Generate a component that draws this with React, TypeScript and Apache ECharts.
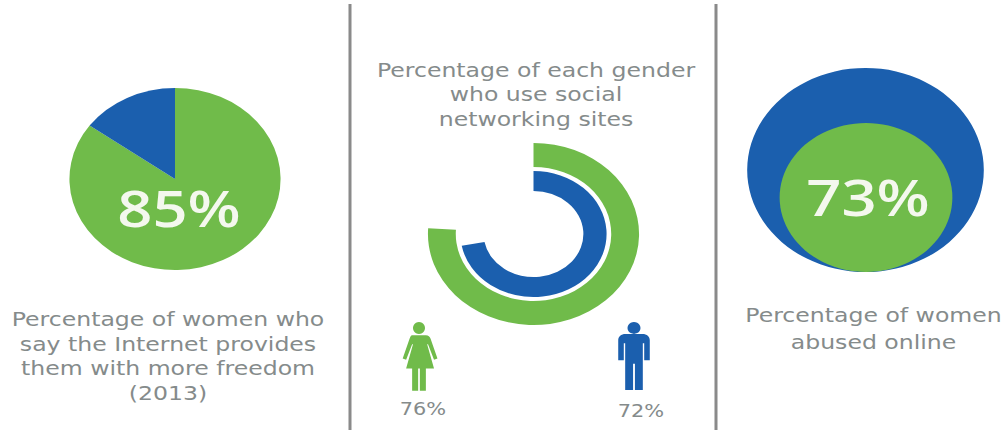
import React, { useEffect, useRef } from "react";
import * as echarts from "echarts";

// Survey figures, in percent
const womenMoreFreedom = 85;
const womenOnSocial = 76;
const menOnSocial = 72;
const womenAbusedOnline = 73;

const freedomCaption = ["Percentage of women who", "say the Internet provides", "them with more freedom", "(2013)"];
const socialCaption = ["Percentage of each gender", "who use social", "networking sites"];
const abuseCaption = ["Percentage of women", "abused online"];

const GREEN = "#70bb4a";
const BLUE = "#1b5fae";
const GREY = "#858b8b";
const RULE = "#8a8a8a";
const FONT = "'Open Sans', sans-serif";
const CAPTION_FONT = "'DejaVu Sans', sans-serif";

// The artwork is laid out on a narrower canvas and widened as a whole.
const WIDEN = 1.16;
const PAGE_W = 1007;
const PAGE_H = 430;
const CANVAS_W = PAGE_W / WIDEN;
const px = (x: number) => x / WIDEN;

const WOMAN =
  "M50 0a14 14 0 1 1-.01 0zM34 31H66c6 0 9 3 11 8l16 46-8 3-14-36-2 0 16 56H66v52H52v-52H48v52H34v-52H20l16-56-2 0-14 36-8-3 16-46c2-5 3-8 6-8z";
const MAN =
  "M50 0a14 14 0 1 1-.01 0zM32 28H68c10 0 16 6 16 15v47H72V50H69V160H52V98H48V160H31V50H28V90H16V43c0-9 6-15 16-15z";
echarts.graphic.registerShape("woman", echarts.graphic.extendPath(WOMAN, {}) as any);
echarts.graphic.registerShape("man", echarts.graphic.extendPath(MAN, {}) as any);

const captionLines = (lines: string[], cx: number, ys: number[]) =>
  lines.map((text, i) => ({
    type: "text",
    z: 10,
    x: px(cx),
    y: ys[i],
    scaleX: 1.07,
    style: { text, fill: GREY, font: `400 19px ${CAPTION_FONT}`, textAlign: "center", textVerticalAlign: "middle" },
  }));

const bigLabel = (value: number, cx: number, cy: number) => ({
  type: "text",
  z: 10,
  x: px(cx),
  y: cy,
  scaleX: 1.06,
  style: { text: `${value}%`, fill: "#f4f8ee", font: `600 50px ${FONT}`, textAlign: "center", textVerticalAlign: "middle" },
});

const smallLabel = (value: number, cx: number, cy: number) => ({
  type: "text",
  z: 10,
  x: px(cx),
  y: cy,
  style: { text: `${value}%`, fill: GREY, font: `400 18px ${CAPTION_FONT}`, textAlign: "center", textVerticalAlign: "middle" },
});

const rule = (x: number, top: number) => ({
  type: "line",
  z: 10,
  shape: { x1: px(x), y1: top, x2: px(x), y2: PAGE_H },
  style: { stroke: RULE, lineWidth: 2.6 },
});

// Share of a full turn as a slice plus an invisible remainder.
const ring = (value: number, color: string, inner: number, outer: number) => ({
  type: "pie",
  center: [px(533.5), 234],
  radius: [inner, outer],
  startAngle: 90,
  silent: true,
  label: { show: false },
  labelLine: { show: false },
  data: [
    { value, itemStyle: { color } },
    { value: 100 - value, itemStyle: { color: "transparent" } },
  ],
});

// A disc whose radius is proportional to the value.
const disc = (value: number, color: string, cx: number, cy: number, fullRadius: number) => ({
  type: "pie",
  center: [px(cx), cy],
  radius: [0, (fullRadius * value) / 100],
  silent: true,
  label: { show: false },
  labelLine: { show: false },
  data: [{ value, itemStyle: { color } }],
});

export default function App() {
  const ref = useRef<HTMLDivElement>(null);

  useEffect(() => {
    const chart = echarts.init(ref.current!, null, { renderer: "svg" });
    chart.setOption({
      animation: false,
      backgroundColor: "#ffffff",
      series: [
        {
          type: "pie",
          center: [px(175), 179],
          radius: [0, 91],
          startAngle: 90,
          silent: true,
          label: { show: false },
          labelLine: { show: false },
          data: [
            { value: womenMoreFreedom, itemStyle: { color: GREEN } },
            { value: 100 - womenMoreFreedom, itemStyle: { color: BLUE } },
          ],
        },
        ring(womenOnSocial, GREEN, 67, 91),
        ring(menOnSocial, BLUE, 43, 63),
        disc(100, BLUE, 865.5, 170, 102),
        disc(womenAbusedOnline, GREEN, 866, 197.5, 102),
      ],
      graphic: [
        rule(350, 4),
        rule(716, 4),
        bigLabel(womenMoreFreedom, 179, 207),
        bigLabel(womenAbusedOnline, 868, 196),
        ...captionLines(freedomCaption, 168, [319.5, 344.5, 368.5, 393.5]),
        ...captionLines(socialCaption, 536, [70.5, 94.5, 119.5]),
        ...captionLines(abuseCaption, 873.5, [315.5, 342.5]),
        smallLabel(womenOnSocial, 423, 409),
        smallLabel(menOnSocial, 641, 411),
        {
          type: "woman",
          z: 10,
          x: px(419) - 50 * 0.37,
          y: 322,
          scaleX: 0.37,
          scaleY: 0.43,
          style: { fill: GREEN },
        },
        {
          type: "man",
          z: 10,
          x: px(634) - 50 * 0.4,
          y: 322,
          scaleX: 0.4,
          scaleY: 0.425,
          style: { fill: BLUE },
        },
      ],
    });
    return () => chart.dispose();
  }, []);

  return (
    <div style={{ position: "fixed", left: 0, top: 0, width: PAGE_W, height: PAGE_H, overflow: "hidden", background: "#fff" }}>
      <div
        ref={ref}
        style={{ width: CANVAS_W, height: PAGE_H, transform: `scaleX(${WIDEN})`, transformOrigin: "0 0" }}
      />
    </div>
  );
}
